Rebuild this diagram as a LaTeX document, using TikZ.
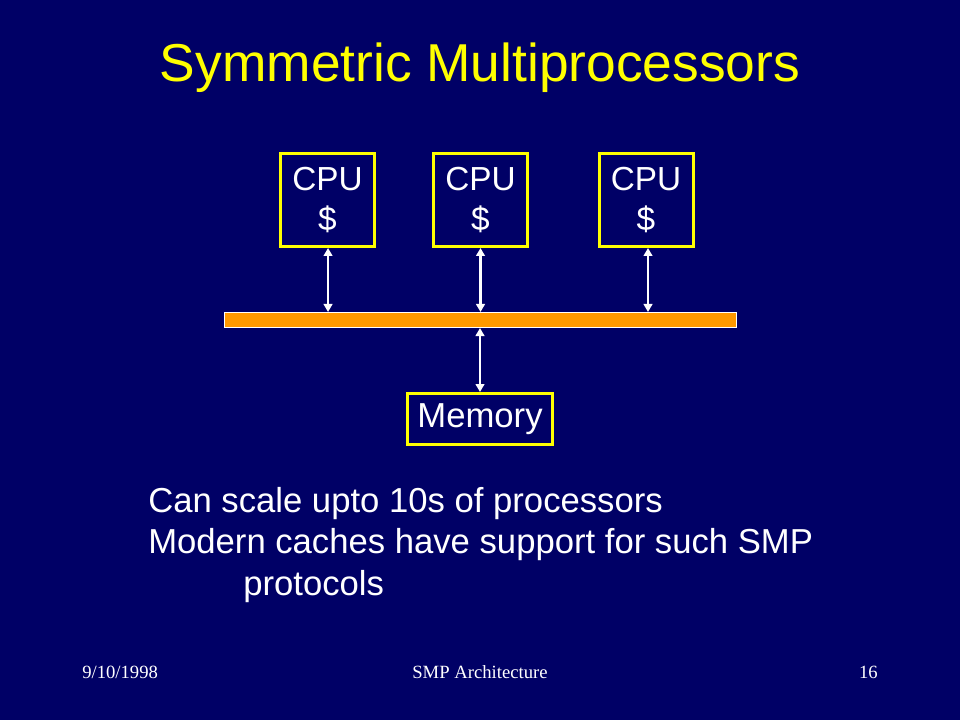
\documentclass[tikz,border=0pt]{standalone}
\usepackage{fontspec}
\setmainfont{Liberation Sans}
\newfontfamily\footfont{Liberation Serif}
\usetikzlibrary{arrows.meta}
\definecolor{slidebg}{HTML}{000066}
\definecolor{busorange}{HTML}{FF9900}
\definecolor{slideyellow}{HTML}{FFFF00}
\tikzset{
  cpubox/.style={draw=slideyellow, line width=2.25pt, minimum width=70.5pt, minimum height=69.75pt, inner sep=0pt, align=center, text=white, font=\fontsize{25}{30}\selectfont},
  membox/.style={draw=slideyellow, line width=2.25pt, minimum width=108.75pt, minimum height=38.25pt, inner sep=0pt, text=white, font=\fontsize{26}{30}\selectfont},
  busbar/.style={fill=busorange, draw=white, line width=0.75pt, minimum width=384pt, minimum height=11.25pt, inner sep=0pt},
  link/.style={draw=white, line width=1.9pt, {Triangle[length=6pt,width=6.5pt]}-{Triangle[length=6pt,width=6.5pt]}},
  bodytext/.style={text=white, inner sep=0pt, anchor=base west, font=\fontsize{26}{30}\selectfont},
  foottext/.style={text=white, inner sep=0pt, font=\footfont\fontsize{14}{16}\selectfont}
}
\begin{document}
\begin{tikzpicture}[x=0.75pt,y=-0.75pt]
\fill[slidebg] (0,0) rectangle (960,720);
\useasboundingbox (0,0) rectangle (960,720);
\node[text=slideyellow, inner sep=0pt, anchor=base, font=\fontsize{40}{48}\selectfont] (title) at (480,82) {Symmetric Multiprocessors};
\node[cpubox] (cpu1) at (327.5,200) {CPU\\\$};
\node[cpubox] (cpu2) at (480.5,200) {CPU\\\$};
\node[cpubox] (cpu3) at (646,200) {CPU\\\$};
\node[busbar] (bus) at (480.5,320) {};
\node[membox] (mem) at (480,419) {Memory};
\draw[link] ([xshift=0.4pt]cpu1.south) -- ([xshift=0.4pt]cpu1.south |- bus.north);
\draw[link] (cpu2.south) -- (cpu2.south |- bus.north);
\draw[link] ([xshift=1.5pt]cpu3.south) -- ([xshift=1.5pt]cpu3.south |- bus.north);
\draw[link] (mem.north |- bus.south) -- (mem.north);
\node[bodytext] (l1) at (148,512) {Can scale upto 10s of processors};
\node[bodytext] (l2) at (148,553) {Modern caches have support for such SMP};
\node[bodytext] (l3) at (243,595) {protocols};
\node[foottext, anchor=base west] (date) at (82,678) {9/10/1998};
\node[foottext, anchor=base] (ftitle) at (480,678) {SMP Architecture};
\node[foottext, anchor=base east] (page) at (878,678) {16};
\end{tikzpicture}
\end{document}
